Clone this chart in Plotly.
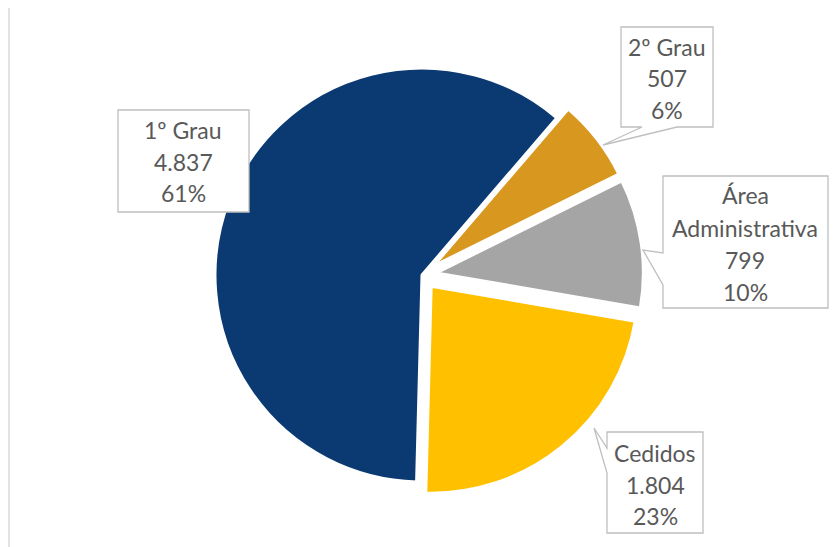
import plotly.graph_objects as go

# ---- data ----
categories = ["1º Grau", "2º Grau", "Área<br>Administrativa", "Cedidos"]
values = [4837, 507, 799, 1804]
colors = ["#0b3a72", "#d8981f", "#a5a5a5", "#ffc000"]
explode = [0.0, 0.07, 0.07, 0.07]

W, H = 837, 547
OFF = 8  # page body margin
total = sum(values)


def fmt_int(v):
    return f"{v:,}".replace(",", ".")


def px(x):
    return (x - OFF) / W


def py(y):
    return 1 - (y - OFF) / H


fig = go.Figure(go.Pie(
    labels=categories,
    values=values,
    sort=False,
    direction="clockwise",
    rotation=181.5,
    pull=explode,
    marker=dict(colors=colors, line=dict(color="white", width=3)),
    textinfo="none",
    hoverinfo="label+value+percent",
    showlegend=False,
    domain=dict(x=[px(200.5), px(643.5)], y=[py(496.5), py(53.5)]),
))

# callout layout (pixel geometry of boxes, text centre, line positions, pointer)
callouts = [
    dict(box=(118, 110, 249, 212), cx=183, lines_y=[130, 162, 193], pointer=None),
    dict(box=(621, 27, 713, 127), cx=667, lines_y=[47, 78, 110],
         pointer=("bottom", 642, 677, (603, 145))),
    dict(box=(663, 176, 828, 308), cx=745, lines_y=[195, 228, 260, 292],
         pointer=("left", 253, 285, (643, 250))),
    dict(box=(607, 432, 703, 533), cx=655, lines_y=[453, 485, 516],
         pointer=("left", 448, 473, (594, 428))),
]

shapes = []
annotations = []
for cat, val, co in zip(categories, values, callouts):
    x0, y0, x1, y1 = co["box"]
    pts = [(x0, y0), (x1, y0), (x1, y1)]
    p = co["pointer"]
    if p and p[0] == "bottom":
        pts += [(p[2], y1), p[3], (p[1], y1)]
    pts += [(x0, y1)]
    if p and p[0] == "left":
        pts += [(x0, p[2]), p[3], (x0, p[1])]
    path = "M " + " L ".join(f"{px(a):.5f},{py(b):.5f}" for a, b in pts) + " Z"
    shapes.append(dict(type="path", xref="paper", yref="paper", path=path,
                       fillcolor="white", line=dict(color="#bfbfbf", width=1.3)))
    pct = round(val / total * 100)
    text_lines = cat.split("<br>") + [fmt_int(val), f"{pct}%"]
    for t, ly in zip(text_lines, co["lines_y"]):
        annotations.append(dict(
            x=px(co["cx"]), y=py(ly), xref="paper", yref="paper",
            text=t, showarrow=False, xanchor="center", yanchor="middle",
            font=dict(family="Lato, 'Open Sans', sans-serif", size=23, color="#595959"),
        ))

# outer chart-area border
shapes.insert(0, dict(type="rect", xref="paper", yref="paper",
                      x0=px(9), y0=py(560), x1=px(850), y1=py(6),
                      line=dict(color="#d9d9d9", width=1.5), fillcolor="rgba(0,0,0,0)"))

fig.update_layout(
    width=W, height=H,
    margin=dict(l=0, r=0, t=0, b=0),
    paper_bgcolor="white",
    plot_bgcolor="white",
    shapes=shapes,
    annotations=annotations,
)

fig.write_html("out.html")
